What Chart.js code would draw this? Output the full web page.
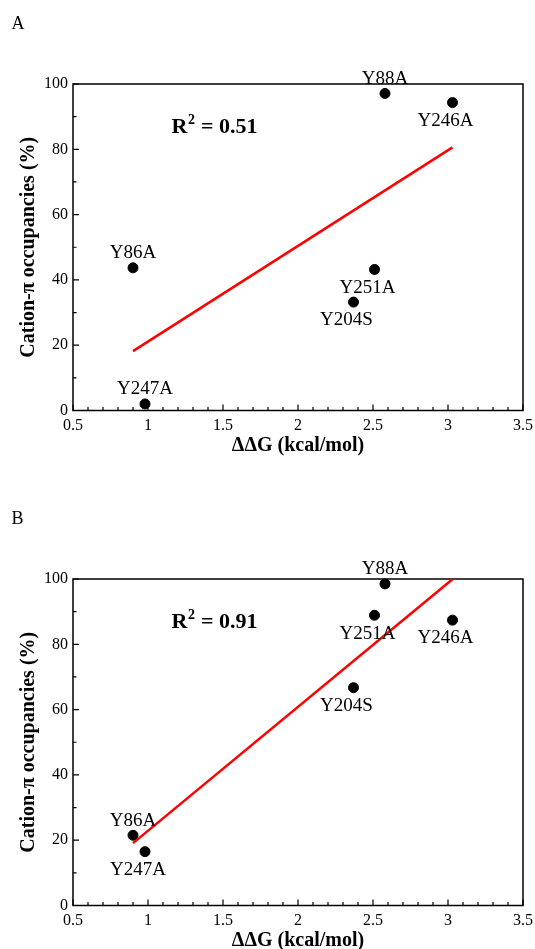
<!DOCTYPE html>
<html>
<head>
<meta charset="utf-8">
<script src="https://cdn.jsdelivr.net/npm/chart.js@4.4.0/dist/chart.umd.min.js"></script>
<style>
  html, body { margin: 0; padding: 0; background: #fff; overflow: hidden; }
  #wrap { position: relative; width: 535px; height: 949px; overflow: hidden; }
  canvas { position: absolute; left: 0; }
  #chartA { top: 0; }
  #chartB { top: 495px; }
</style>
</head>
<body>
<div id="wrap">
  <canvas id="chartA" width="535" height="475" style="width:535px;height:475px"></canvas>
  <canvas id="chartB" width="535" height="475" style="width:535px;height:475px"></canvas>
</div>
<script>
// data
const MUTANTS = ['Y88A', 'Y246A', 'Y86A', 'Y247A', 'Y251A', 'Y204S'];
const DDG = [2.58, 3.03, 0.90, 0.98, 2.51, 2.37];
const OCC_A = [97.1, 94.3, 43.7, 2.0, 43.2, 33.2];
const OCC_B = [98.5, 87.4, 21.5, 16.5, 88.9, 66.7];
const FIT_X = [0.90, 3.03];
const FIT_A = [18.2, 80.6];
const FIT_B = [19.1, 99.9];
const R2_A = '0.51';
const R2_B = '0.91';

// where each point's name sits
const SIDES_A = { Y88A: 'above', Y246A: 'below', Y86A: 'above', Y247A: 'above', Y251A: 'below', Y204S: 'below' };
const SIDES_B = { Y88A: 'above', Y246A: 'below', Y86A: 'above', Y247A: 'below', Y251A: 'below', Y204S: 'below' };

const SERIF = '"Liberation Serif", "DejaVu Serif", serif';
const TICK_FONT = { family: SERIF, size: 16 };
const TITLE_FONT = { family: SERIF, size: 20, weight: 'bold' };

/* box + inward ticks, xmgrace style */
const framePlugin = {
  id: 'frame',
  beforeDatasetsDraw(chart) {
    const { ctx, chartArea: a } = chart;
    const xs = chart.scales.x, ys = chart.scales.y;
    ctx.save();
    ctx.strokeStyle = '#000';
    ctx.lineWidth = 1.5;
    ctx.strokeRect(a.left, a.top, a.right - a.left, a.bottom - a.top);
    ctx.lineWidth = 1.2;
    ctx.beginPath();
    for (let i = 0; i <= 30; i++) {
      const px = xs.getPixelForValue(0.5 + i * 0.1);
      const len = i % 5 === 0 ? 6 : 3.5;
      ctx.moveTo(px, a.bottom);
      ctx.lineTo(px, a.bottom - len);
    }
    for (let v = 0; v <= 100; v += 10) {
      const py = ys.getPixelForValue(v);
      const len = v % 20 === 0 ? 6 : 3.5;
      ctx.moveTo(a.left, py);
      ctx.lineTo(a.left + len, py);
    }
    ctx.stroke();
    ctx.restore();
  }
};

/* point names, R^2 note, panel letter */
const notePlugin = {
  id: 'notes',
  afterDatasetsDraw(chart, args, opts) {
    const { ctx, chartArea: a } = chart;
    ctx.save();
    ctx.fillStyle = '#000';
    ctx.textAlign = 'center';
    ctx.textBaseline = 'middle';
    ctx.font = '19px ' + SERIF;
    chart.getDatasetMeta(1).data.forEach((pt, i) => {
      const name = MUTANTS[i];
      const above = opts.sides[name] === 'above';
      ctx.fillText(name, pt.x + (above ? 0 : -7), pt.y + (above ? -14.5 : 18.3));
    });

    // R^2 = ...
    ctx.textAlign = 'left';
    ctx.textBaseline = 'alphabetic';
    const rx = a.left + 98.5, ry = a.top + 49;
    ctx.font = 'bold 22px ' + SERIF;
    ctx.fillText('R', rx, ry);
    const w1 = ctx.measureText('R').width;
    ctx.font = 'bold 14px ' + SERIF;
    ctx.fillText('2', rx + w1 + 0.5, ry - 9);
    const w2 = ctx.measureText('2').width;
    ctx.font = 'bold 22px ' + SERIF;
    ctx.fillText(' = ' + opts.r2, rx + w1 + w2 + 1, ry);

    // panel letter
    ctx.font = '18px ' + SERIF;
    ctx.fillText(opts.letter, 11.5, 28.5);
    ctx.restore();
  }
};

function makeChart(id, letter, occ, fit, r2, sides) {
  const points = DDG.map((x, i) => ({ x, y: occ[i] }));
  const line = FIT_X.map((x, i) => ({ x, y: fit[i] }));
  return new Chart(document.getElementById(id), {
    type: 'scatter',
    data: {
      datasets: [
        {
          data: line,
          showLine: true,
          borderColor: '#ff0000',
          borderWidth: 2.5,
          pointRadius: 0,
          pointHoverRadius: 0,
          clip: false
        },
        {
          data: points,
          backgroundColor: '#000',
          borderColor: '#000',
          pointRadius: 5,
          pointHoverRadius: 5,
          clip: false
        }
      ]
    },
    options: {
      responsive: false,
      animation: false,
      events: [],
      layout: { padding: { top: 84, right: 12, left: 0, bottom: 0 } },
      plugins: {
        legend: { display: false },
        tooltip: { enabled: false },
        notes: { letter, r2, sides }
      },
      scales: {
        x: {
          type: 'linear',
          min: 0.5,
          max: 3.5,
          afterFit: s => { s.height = 64.5; s.paddingLeft = 0; s.paddingRight = 0; },
          grid: { display: false, drawTicks: false },
          border: { display: false },
          ticks: {
            stepSize: 0.5, padding: 6, color: '#000', font: TICK_FONT, maxRotation: 0,
            callback: v => String(Math.round(v * 10) / 10)
          },
          title: {
            display: true,
            text: 'ΔΔG (kcal/mol)',
            color: '#000',
            font: TITLE_FONT,
            padding: { top: 0, bottom: 17 }
          }
        },
        y: {
          type: 'linear',
          min: 0,
          max: 100,
          afterFit: s => { s.width = 73; s.paddingTop = 0; s.paddingBottom = 0; },
          grid: { display: false, drawTicks: false },
          border: { display: false },
          ticks: { stepSize: 20, padding: 5, color: '#000', font: TICK_FONT },
          title: {
            display: true,
            text: 'Cation-π occupancies (%)',
            color: '#000',
            font: TITLE_FONT,
            padding: { top: 16.5, bottom: 0 }
          }
        }
      }
    },
    plugins: [framePlugin, notePlugin]
  });
}

makeChart('chartA', 'A', OCC_A, FIT_A, R2_A, SIDES_A);
makeChart('chartB', 'B', OCC_B, FIT_B, R2_B, SIDES_B);
</script>
</body>
</html>
